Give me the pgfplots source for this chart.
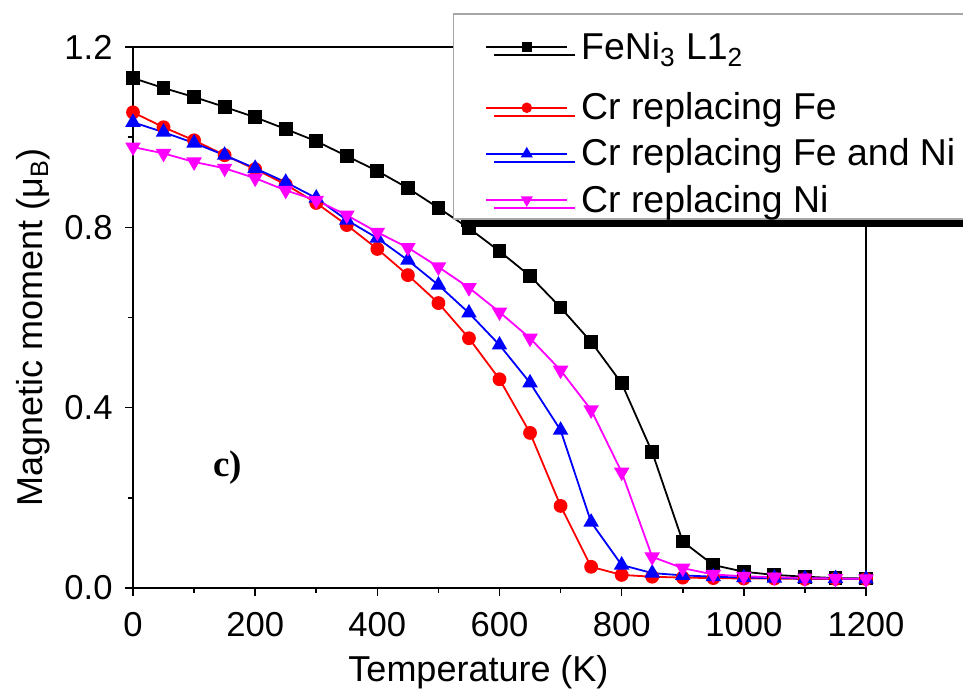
\documentclass[border=0pt]{standalone}
\usepackage{fontspec}
\setmainfont{Liberation Sans}
\newfontfamily\labelserif{Liberation Serif}
\usepackage{pgfplots}
\pgfplotsset{compat=1.18}
\usetikzlibrary{shadows}
\definecolor{cfe}{RGB}{255,0,0}
\definecolor{cfeni}{RGB}{0,0,255}
\definecolor{cni}{RGB}{255,0,255}

\begin{document}
\begin{tikzpicture}
\begin{axis}[
  scale only axis,
  width=366.5pt, height=270.5pt,
  xmin=0, xmax=1200, ymin=0, ymax=1.2,
  xtick={0,200,...,1200},
  ytick={0,0.4,0.8,1.2},
  minor x tick num=1, minor y tick num=1,
  tick align=outside,
  xtick pos=bottom, ytick pos=left,
  major tick length=4pt, minor tick length=2.5pt,
  axis line style={line width=1pt},
  every tick/.style={black, line width=0.8pt},
  /pgf/number format/assume math mode=true,
  /pgf/number format/1000 sep={},
  ticklabel style={font=\fontsize{17.3}{20}\selectfont},
  xticklabel style={anchor=base, inner sep=0pt, yshift=-20.5pt},
  yticklabel style={anchor=east, inner sep=0pt, xshift=-6pt,
    /pgf/number format/fixed, /pgf/number format/fixed zerofill,
    /pgf/number format/precision=1},
  xlabel={Temperature (K)},
  ylabel={Magnetic moment (μ\textsubscript{B})},
  label style={font=\fontsize{18}{21}\selectfont},
  xlabel style={at={(axis description cs:0.5,0)}, anchor=base, yshift=-47pt, xshift=-10.5pt},
  ylabel style={at={(axis description cs:0,0.5)}, anchor=center, yshift=49.8pt, xshift=-5pt},
  legend style={
    at={(0.436,1.063)}, anchor=north west,
    draw=gray!70, line width=0.8pt, fill=white,
    font=\fontsize{18.7}{21}\selectfont,
    inner xsep=3pt, inner ysep=0pt, row sep=4pt,
    cells={anchor=west},
    drop shadow={shadow xshift=4pt, shadow yshift=-4pt, fill=black, opacity=1},
  },
  legend image code/.code={%
    \path (0pt,0pt) (58pt,0pt);
    \draw[line width=0.9pt, mark repeat=2, mark phase=2, #1, every mark/.append style={scale=0.72}]
      plot coordinates {(13pt,0pt) (33.25pt,0pt) (53.5pt,0pt)};
  },
]
\addplot[black, line width=0.9pt, mark=square*, mark size=3pt] coordinates {
(0,1.131) (50,1.109) (100,1.089) (150,1.067) (200,1.044) (250,1.018)
(300,0.991) (350,0.958) (400,0.925) (450,0.887) (500,0.843) (550,0.798)
(600,0.747) (650,0.692) (700,0.622) (750,0.546) (800,0.454) (850,0.301)
(900,0.103) (950,0.051) (1000,0.036) (1050,0.029) (1100,0.025) (1150,0.022) (1200,0.021)
};
\addlegendentry[text height=21pt, text depth=8.5pt]{FeNi\textsubscript{3} L1\textsubscript{2}}
\addplot[cfe, line width=0.9pt, mark=*, mark size=3pt] coordinates {
(0,1.055) (50,1.022) (100,0.993) (150,0.960) (200,0.929) (250,0.895)
(300,0.854) (350,0.805) (400,0.752) (450,0.694) (500,0.632) (550,0.554)
(600,0.463) (650,0.344) (700,0.182) (750,0.047) (800,0.029) (850,0.025)
(900,0.023) (950,0.022) (1000,0.021) (1050,0.021) (1100,0.020) (1150,0.020) (1200,0.020)
};
\addlegendentry{Cr replacing Fe}
\addplot[cfeni, line width=0.9pt, mark=triangle*, mark size=3.6pt] coordinates {
(0,1.033) (50,1.011) (100,0.987) (150,0.960) (200,0.931) (250,0.900)
(300,0.865) (350,0.816) (400,0.776) (450,0.727) (500,0.672) (550,0.610)
(600,0.539) (650,0.455) (700,0.350) (750,0.146) (800,0.051) (850,0.033)
(900,0.028) (950,0.025) (1000,0.023) (1050,0.022) (1100,0.021) (1150,0.021) (1200,0.020)
};
\addlegendentry{Cr replacing Fe and Ni}
\addplot[cni, line width=0.9pt, mark=triangle*, mark size=3.6pt, mark options={rotate=180}] coordinates {
(0,0.978) (50,0.964) (100,0.945) (150,0.931) (200,0.909) (250,0.882)
(300,0.860) (350,0.827) (400,0.789) (450,0.755) (500,0.712) (550,0.666)
(600,0.612) (650,0.554) (700,0.483) (750,0.395) (800,0.257) (850,0.069)
(900,0.044) (950,0.030) (1000,0.026) (1050,0.024) (1100,0.022) (1150,0.021) (1200,0.020)
};
\addlegendentry{Cr replacing Ni}
\node[font=\labelserif\bfseries\fontsize{18.5}{20}\selectfont] at (axis cs:155,0.266) {c)};
\end{axis}
\pgfresetboundingbox
\path[use as bounding box] (-66.5pt,-53pt) rectangle (415pt,294pt);
\end{tikzpicture}
\end{document}
